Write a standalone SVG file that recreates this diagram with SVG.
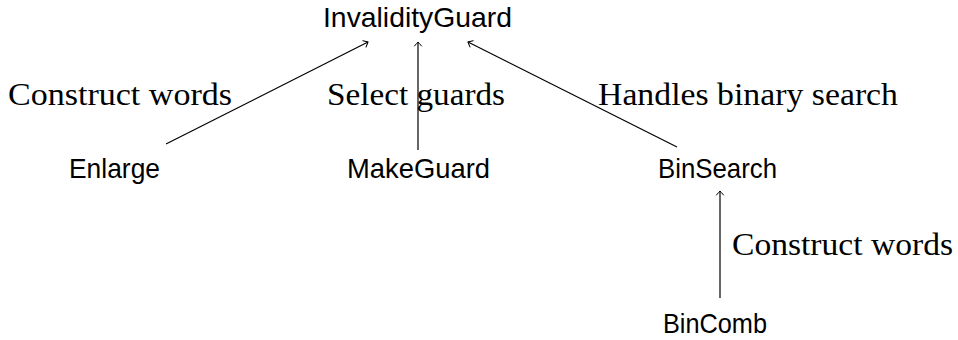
<svg xmlns="http://www.w3.org/2000/svg" width="958" height="340" viewBox="0 0 958 340">
<defs>
<style>
.node{font-family:"Liberation Sans","DejaVu Sans",sans-serif;font-size:28px;fill:#000}
.lbl{font-family:"Liberation Serif","DejaVu Serif",serif;font-size:31px;fill:#000}
.edge{stroke:#000;stroke-width:1.2;fill:none;marker-end:url(#to)}
</style>
<marker id="to" markerUnits="userSpaceOnUse" viewBox="-6 -5 8 10" markerWidth="8" markerHeight="10" refX="0" refY="0" orient="auto" overflow="visible">
<path d="M -4,-3.5 Q -1,-1 0,0 Q -1,1 -4,3.5" stroke="#000" stroke-width="1" fill="none" stroke-linecap="round"/>
</marker>
</defs>
<rect width="958" height="340" fill="#fff"/>
<g id="connectors">
<line class="edge" x1="166" y1="144" x2="368" y2="42"/>
<line class="edge" x1="418" y1="150" x2="418" y2="42"/>
<line class="edge" x1="677" y1="147" x2="468" y2="42"/>
<line class="edge" x1="720" y1="298" x2="720" y2="191"/>
</g>
<g id="labels">
<text class="lbl" x="8" y="105" textLength="224" lengthAdjust="spacingAndGlyphs">Construct words</text>
<text class="lbl" x="327" y="105" textLength="178" lengthAdjust="spacingAndGlyphs">Select guards</text>
<text class="lbl" x="598" y="105" textLength="300" lengthAdjust="spacingAndGlyphs">Handles binary search</text>
<text class="lbl" x="732" y="255" textLength="221" lengthAdjust="spacingAndGlyphs">Construct words</text>
</g>
<g id="InvalidityGuard"><text class="node" x="323" y="27" textLength="189" lengthAdjust="spacingAndGlyphs">InvalidityGuard</text></g>
<g id="Enlarge"><text class="node" x="69" y="178" textLength="91" lengthAdjust="spacingAndGlyphs">Enlarge</text></g>
<g id="MakeGuard"><text class="node" x="347" y="178" textLength="143" lengthAdjust="spacingAndGlyphs">MakeGuard</text></g>
<g id="BinSearch"><text class="node" x="658" y="178" textLength="119" lengthAdjust="spacingAndGlyphs">BinSearch</text></g>
<g id="BinComb"><text class="node" x="663" y="333" textLength="104" lengthAdjust="spacingAndGlyphs">BinComb</text></g>
</svg>
